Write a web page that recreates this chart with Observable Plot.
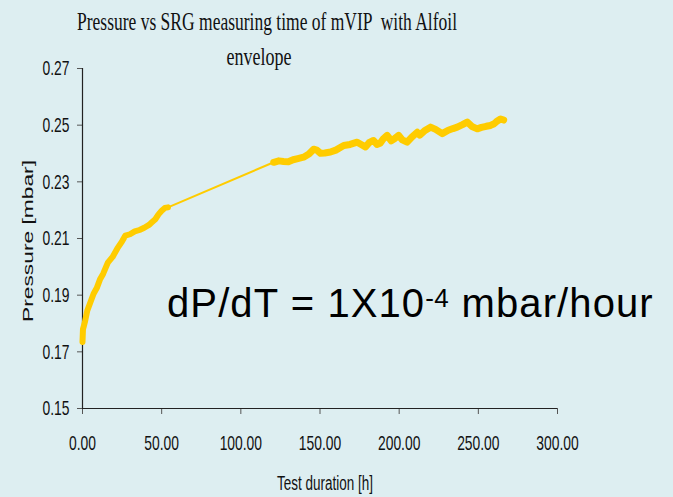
<!DOCTYPE html>
<html>
<head>
<meta charset="utf-8">
<script src="https://cdn.jsdelivr.net/npm/d3@7"></script>
<script src="https://cdn.jsdelivr.net/npm/@observablehq/plot@0.6"></script>
<style>
  html, body { margin: 0; padding: 0; background: #ddeef1; }
  #chart { width: 673px; height: 497px; }
</style>
</head>
<body>
<div id="chart"></div>
<script>
// Early segment (dense measurements)
const segA_hours = [0, 0.3, 0.8, 1.5, 3, 5, 7, 9, 11, 13, 16, 19, 22, 25, 27, 30, 33, 36, 39, 42, 44, 46, 48, 50, 52, 54];
const segA_pressure = [0.1735, 0.178, 0.179, 0.1805, 0.1845, 0.1875, 0.1905, 0.1925, 0.1955, 0.1975, 0.2015, 0.2035, 0.2065, 0.209, 0.211, 0.2115, 0.2125, 0.213, 0.2138, 0.2148, 0.2158, 0.2168, 0.2185, 0.2198, 0.2208, 0.221];
// Later segment (dense measurements)
const segB_hours = [120.8, 124, 127, 130, 133, 136, 139.6, 143, 146, 148, 150.3, 153, 156.6, 160, 165, 169, 173.5, 176, 178.7, 181, 183.8, 186, 188, 190, 192.4, 195, 197, 199.6, 202, 205, 208, 211.4, 213, 216, 219.8, 223, 227.2, 231, 234, 236.7, 240, 243, 246, 249.3, 252, 255, 257.7, 260, 262, 264, 266];
const segB_pressure = [0.2369, 0.2374, 0.2372, 0.2371, 0.2378, 0.2382, 0.2387, 0.2398, 0.2415, 0.2412, 0.2401, 0.2402, 0.2405, 0.2412, 0.2428, 0.2432, 0.244, 0.2432, 0.2423, 0.2438, 0.2446, 0.2432, 0.2436, 0.2452, 0.2464, 0.2445, 0.2452, 0.2464, 0.2448, 0.244, 0.2458, 0.2475, 0.2465, 0.248, 0.2493, 0.2485, 0.247, 0.2482, 0.2488, 0.2493, 0.2502, 0.2511, 0.2495, 0.2487, 0.2492, 0.2496, 0.2499, 0.2505, 0.2515, 0.2522, 0.2518];

const xTicks = [0, 50, 100, 150, 200, 250, 300];
const yTicks = [0.15, 0.17, 0.19, 0.21, 0.23, 0.25, 0.27];

const titleLines = ["Pressure vs SRG measuring time of mVIP  with Alfoil", "envelope"];
const xLabel = "Test duration [h]";
const yLabel = "Pressure [mbar]";
const noteMain = "dP/dT = 1X10";
const noteExp = "-4";
const noteTail = " mbar/hour";

const segA = segA_hours.map((h, i) => ({h, p: segA_pressure[i]}));
const segB = segB_hours.map((h, i) => ({h, p: segB_pressure[i]}));
const connector = [segA[segA.length - 1], segB[0]];

const lineColor = "#ffcc00";
const sansFont = "'Liberation Sans', Arial, sans-serif";

const chart = Plot.plot({
  width: 673,
  height: 497,
  marginLeft: 82,
  marginRight: 116,
  marginTop: 68,
  marginBottom: 89,
  style: {background: "#ddeef1", fontFamily: sansFont, fontSize: "21px", color: "#111"},
  x: {domain: [0, 300], label: null},
  y: {domain: [0.15, 0.27], label: null},
  marks: [
    Plot.axisX({ticks: xTicks, tickFormat: d3.format(".2f"), tickSize: 6, tickPadding: 21, fontSize: 21, stroke: "#555", label: null}),
    Plot.axisY({ticks: yTicks, tickFormat: d3.format(".2f"), tickSize: 5, tickPadding: 8, fontSize: 21, stroke: "#555", label: null}),
    Plot.ruleX([0], {stroke: "#222", strokeWidth: 1.2}),
    Plot.ruleY([0.15], {stroke: "#222", strokeWidth: 1.2}),
    Plot.line(connector, {x: "h", y: "p", stroke: lineColor, strokeWidth: 2}),
    Plot.line(segA, {x: "h", y: "p", stroke: lineColor, strokeWidth: 6, strokeLinejoin: "round"}),
    Plot.line(segB, {x: "h", y: "p", stroke: lineColor, strokeWidth: 7, strokeLinejoin: "round"})
  ]
});
document.getElementById("chart").appendChild(chart);

const svg = d3.select(chart);
// Condense axis tick labels horizontally (narrow font look)
svg.selectAll("g[aria-label='x-axis tick label'] text, g[aria-label='y-axis tick label'] text").each(function() {
  const t = this.getAttribute("transform") || "";
  this.setAttribute("transform", t + " scale(0.66,1)");
});

// Title
const title = svg.append("text")
  .attr("font-family", "'Liberation Serif', 'DejaVu Serif', serif")
  .attr("font-size", 26)
  .attr("fill", "#111")
  .attr("text-anchor", "middle");
title.append("tspan").attr("x", 267).attr("y", 30)
  .attr("textLength", 380).attr("lengthAdjust", "spacingAndGlyphs").text(titleLines[0]);
title.append("tspan").attr("x", 259).attr("y", 65)
  .attr("textLength", 65).attr("lengthAdjust", "spacingAndGlyphs").text(titleLines[1]);

// Axis labels
svg.append("text")
  .attr("x", 325).attr("y", 490)
  .attr("text-anchor", "middle")
  .attr("font-family", sansFont)
  .attr("font-size", 19.5)
  .attr("fill", "#111")
  .attr("textLength", 96).attr("lengthAdjust", "spacingAndGlyphs")
  .text(xLabel);
svg.append("text")
  .attr("transform", "translate(33,241) rotate(-90)")
  .attr("text-anchor", "middle")
  .attr("font-family", sansFont)
  .attr("font-size", 15)
  .attr("fill", "#111")
  .attr("textLength", 162).attr("lengthAdjust", "spacingAndGlyphs")
  .text(yLabel);

// Annotation
const note = svg.append("text")
  .attr("x", 167).attr("y", 317)
  .attr("text-anchor", "start")
  .attr("font-family", sansFont)
  .attr("font-size", 40)
  .attr("letter-spacing", 1.1)
  .attr("fill", "#000");
note.append("tspan").text(noteMain);
note.append("tspan").attr("dy", -10).attr("font-size", 26).attr("letter-spacing", 0.5).text(noteExp);
note.append("tspan").attr("dy", 10).text(noteTail);
</script>
</body>
</html>
